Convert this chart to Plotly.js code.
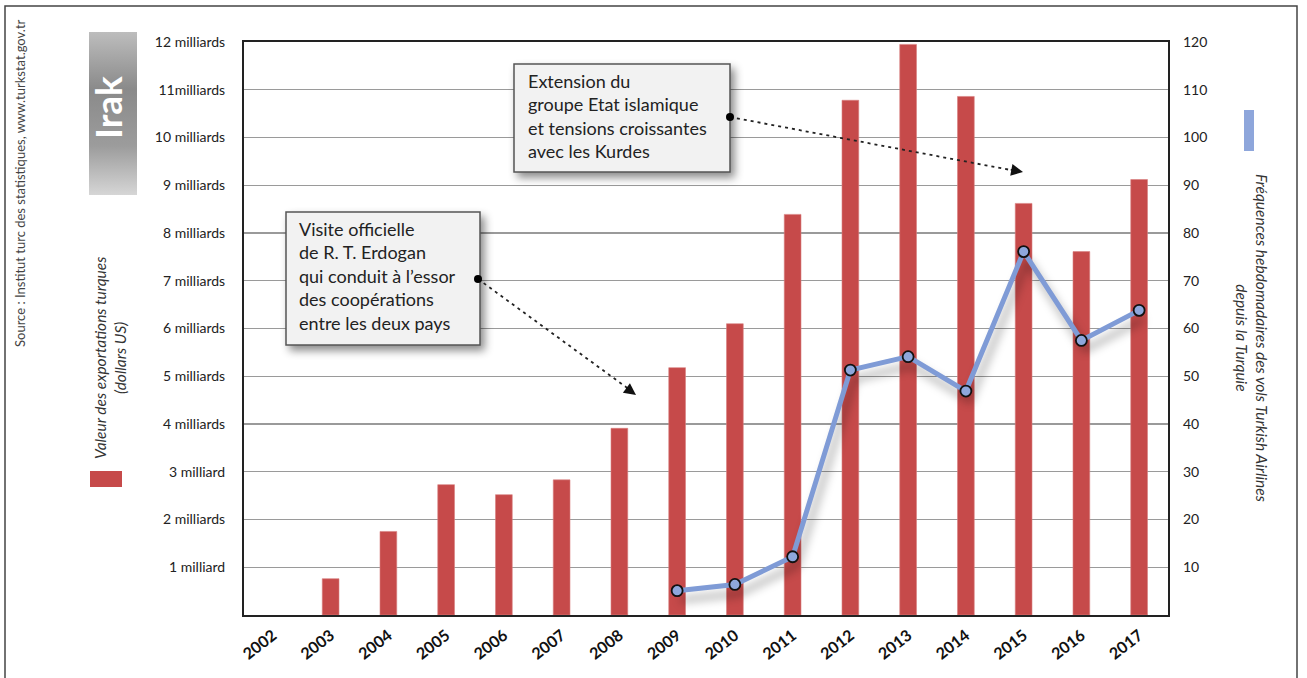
<!DOCTYPE html>
<html>
<head>
<meta charset="utf-8">
<script src="https://cdn.plot.ly/plotly-3.0.1.min.js"></script>
<style>
  html, body { margin: 0; padding: 0; background: #fff; }
  #chart { width: 1307px; height: 678px; }
</style>
</head>
<body>
<div id="chart"></div>
<script>
// Years on the category axis
const years = ['2002','2003','2004','2005','2006','2007','2008','2009',
               '2010','2011','2012','2013','2014','2015','2016','2017'];

// Turkish exports to Iraq, billions of US dollars (left axis)
const exportsBn = [null, 0.76, 1.75, 2.73, 2.52, 2.83, 3.91, 5.18,
                   6.10, 8.39, 10.78, 11.95, 10.86, 8.62, 7.61, 9.12];

// Weekly Turkish Airlines flights to Iraq (right axis)
const weeklyFlights = [null, null, null, null, null, null, null, 5.1,
                       6.4, 12.2, 51.3, 54.1, 46.9, 76.1, 57.5, 63.8];

// Axis tick labels
const exportTickVals = [1, 2, 3, 4, 5, 6, 7, 8, 9, 10, 11, 12];
const exportTickText = ['1 milliard', '2 milliards', '3 milliard', '4 milliards',
                        '5 milliards', '6 milliards', '7 milliards', '8 milliards',
                        '9 milliards', '10 milliards', '11milliards', '12 milliards'];
const flightTickVals = [10, 20, 30, 40, 50, 60, 70, 80, 90, 100, 110, 120];

// Plot area geometry (pixels) and helpers to place decorations in paper units
const L = 244, T = 42, W = 924, H = 573;
const fx = px => (px - L) / W;
const fy = py => (T + H - py) / H;

const FONT = 'Lato, "Open Sans", sans-serif';
const RED = '#c64a4a';
const BLUE = '#7f9bd6';

const traces = [
  {
    type: 'bar',
    x: years,
    y: exportsBn,
    marker: { color: RED, line: { color: '#d98080', width: 0.6 } },
    width: 0.29,
    yaxis: 'y',
    hoverinfo: 'skip'
  },
  {
    type: 'scatter',
    mode: 'lines+markers',
    x: years,
    y: weeklyFlights,
    yaxis: 'y2',
    line: { color: BLUE, width: 5 },
    marker: { size: 11, color: '#8ea7dc', line: { color: '#111', width: 1.8 } },
    connectgaps: false,
    hoverinfo: 'skip'
  }
];

const dotted = { color: '#222', width: 1.8, dash: '3px,4px' };

const shapes = [
  // outer frame
  { type: 'rect', xref: 'paper', yref: 'paper', x0: fx(5), x1: fx(1297), y0: fy(700), y1: fy(6),
    line: { color: '#444', width: 1.5 }, fillcolor: 'rgba(0,0,0,0)', layer: 'below' },
  // "Irak" title block (gradient applied after render)
  { type: 'rect', xref: 'paper', yref: 'paper', x0: fx(89), x1: fx(137), y0: fy(195), y1: fy(32),
    line: { width: 0 }, fillcolor: '#a0a0a0', layer: 'above' },
  // legend swatches
  { type: 'rect', xref: 'paper', yref: 'paper', x0: fx(90), x1: fx(122), y0: fy(487), y1: fy(471),
    line: { width: 0 }, fillcolor: RED, layer: 'above' },
  { type: 'rect', xref: 'paper', yref: 'paper', x0: fx(1244), x1: fx(1254), y0: fy(151), y1: fy(110),
    line: { width: 0 }, fillcolor: '#8ea6db', layer: 'above' },
  // callout boxes
  { type: 'rect', xref: 'paper', yref: 'paper', x0: fx(286), x1: fx(480), y0: fy(345), y1: fy(212),
    line: { color: '#555', width: 1.5 }, fillcolor: '#f2f2f2', layer: 'above' },
  { type: 'rect', xref: 'paper', yref: 'paper', x0: fx(514), x1: fx(730), y0: fy(172), y1: fy(64),
    line: { color: '#555', width: 1.5 }, fillcolor: '#f2f2f2', layer: 'above' },
  // dotted leader lines
  { type: 'line', xref: 'paper', yref: 'paper', x0: fx(478), y0: fy(279), x1: fx(630), y1: fy(390),
    line: dotted, layer: 'above' },
  { type: 'line', xref: 'paper', yref: 'paper', x0: fx(730), y0: fy(117), x1: fx(1016), y1: fy(171),
    line: dotted, layer: 'above' },
  // leader start dots
  { type: 'circle', xref: 'paper', yref: 'paper', x0: fx(474), x1: fx(482), y0: fy(283), y1: fy(275),
    line: { width: 0 }, fillcolor: '#000', layer: 'above' },
  { type: 'circle', xref: 'paper', yref: 'paper', x0: fx(726), x1: fx(734), y0: fy(121), y1: fy(113),
    line: { width: 0 }, fillcolor: '#000', layer: 'above' }
];

// arrowhead helper: short arrow ending at the tip, pointing along (dx, dy)
function arrowHead(tipX, tipY, dx, dy) {
  const n = Math.hypot(dx, dy);
  return {
    xref: 'paper', yref: 'paper', x: fx(tipX), y: fy(tipY),
    ax: -dx / n * 14, ay: -dy / n * 14, axref: 'pixel', ayref: 'pixel',
    text: '', showarrow: true, arrowhead: 2, arrowsize: 1.7, arrowwidth: 1.4, arrowcolor: '#111'
  };
}

const annotations = [
  { xref: 'paper', yref: 'paper', x: fx(297), y: fy(216), xanchor: 'left', yanchor: 'top',
    align: 'left', showarrow: false,
    text: 'Visite officielle<br>de R. T. Erdogan<br>qui conduit à l’essor<br>des coopérations<br>entre les deux pays',
    font: { family: FONT, size: 18, color: '#222' } },
  { xref: 'paper', yref: 'paper', x: fx(526), y: fy(68), xanchor: 'left', yanchor: 'top',
    align: 'left', showarrow: false,
    text: 'Extension du<br>groupe Etat islamique<br>et tensions croissantes<br>avec les Kurdes',
    font: { family: FONT, size: 18, color: '#222' } },
  arrowHead(636, 395, 157, 115),
  arrowHead(1023, 172, 292, 55),
  // title block text
  { xref: 'paper', yref: 'paper', x: fx(107), y: fy(108), xanchor: 'center', yanchor: 'middle',
    text: '<b>Irak</b>', textangle: -90, showarrow: false,
    font: { family: FONT, size: 37, color: '#fff' } },
  // source
  { xref: 'paper', yref: 'paper', x: fx(20), y: fy(183), xanchor: 'center', yanchor: 'middle',
    text: 'Source : Institut turc des statistiques, www.turkstat.gov.tr', textangle: -90, showarrow: false,
    font: { family: FONT, size: 13, color: '#444' } },
  // left series caption
  { xref: 'paper', yref: 'paper', x: fx(110), y: fy(358), xanchor: 'center', yanchor: 'middle',
    text: '<i>Valeur des exportations turques<br>(dollars US)</i>', textangle: -90, showarrow: false,
    font: { family: FONT, size: 15.5, color: '#333' } },
  // right series caption
  { xref: 'paper', yref: 'paper', x: fx(1252), y: fy(338), xanchor: 'center', yanchor: 'middle',
    text: '<i>Fréquences hebdomadaires des vols Turkish Airlines<br>depuis la Turquie</i>', textangle: 90, showarrow: false,
    font: { family: FONT, size: 15.5, color: '#333' } }
];

const layout = {
  width: 1307, height: 678,
  margin: { l: L, r: 1307 - L - W, t: T, b: 678 - T - H, pad: 0 },
  paper_bgcolor: '#fff', plot_bgcolor: '#fff',
  showlegend: false,
  font: { family: FONT, color: '#222' },
  xaxis: {
    type: 'category', range: [-0.5, 15.5],
    showline: true, mirror: true, linecolor: '#222', linewidth: 2,
    showgrid: false, zeroline: false, ticks: '',
    tickangle: -38, ticklabelstandoff: 3,
    tickfont: { family: FONT, size: 16, color: '#111', weight: 'bold' }
  },
  yaxis: {
    range: [0, 12], tickvals: exportTickVals, ticktext: exportTickText,
    showline: true, mirror: true, linecolor: '#222', linewidth: 2,
    showgrid: true, gridcolor: '#9a9a9a', gridwidth: 1.2, zeroline: false,
    ticks: '', ticklabelstandoff: 14,
    tickfont: { family: FONT, size: 14, color: '#222' }
  },
  yaxis2: {
    range: [0, 120], tickvals: flightTickVals, overlaying: 'y', side: 'right',
    showline: false, showgrid: false, zeroline: false,
    ticks: '', ticklabelstandoff: 14,
    tickfont: { family: FONT, size: 14, color: '#222' }
  },
  shapes: shapes,
  annotations: annotations
};

Plotly.newPlot('chart', traces, layout, { displayModeBar: false, staticPlot: true }).then(gd => {
  const svg = gd.querySelector('svg.main-svg');
  const NS = 'http://www.w3.org/2000/svg';
  let defs = svg.querySelector('defs');
  if (!defs) { defs = document.createElementNS(NS, 'defs'); svg.insertBefore(defs, svg.firstChild); }
  const grad = document.createElementNS(NS, 'linearGradient');
  grad.setAttribute('id', 'irakGrad');
  grad.setAttribute('x1', '0'); grad.setAttribute('y1', '0');
  grad.setAttribute('x2', '0'); grad.setAttribute('y2', '1');
  [['0', '#bdbdbd'], ['0.35', '#8a8a8a'], ['0.7', '#9c9c9c'], ['1', '#d6d6d6']].forEach(([o, c]) => {
    const s = document.createElementNS(NS, 'stop');
    s.setAttribute('offset', o); s.setAttribute('stop-color', c);
    grad.appendChild(s);
  });
  defs.appendChild(grad);

  gd.querySelectorAll('.shapelayer path').forEach(p => {
    const idx = p.getAttribute('data-index');
    if (idx === '1') { p.style.fill = 'url(#irakGrad)'; p.style.fillOpacity = 1; }
    if (idx === '4' || idx === '5') { p.style.filter = 'drop-shadow(4px 5px 4px rgba(0,0,0,0.45))'; }
  });
  gd.querySelectorAll('.scatterlayer .trace path.js-line').forEach(p => {
    p.style.filter = 'drop-shadow(4px 9px 5px rgba(0,0,0,0.35))';
  });
});
</script>
</body>
</html>
